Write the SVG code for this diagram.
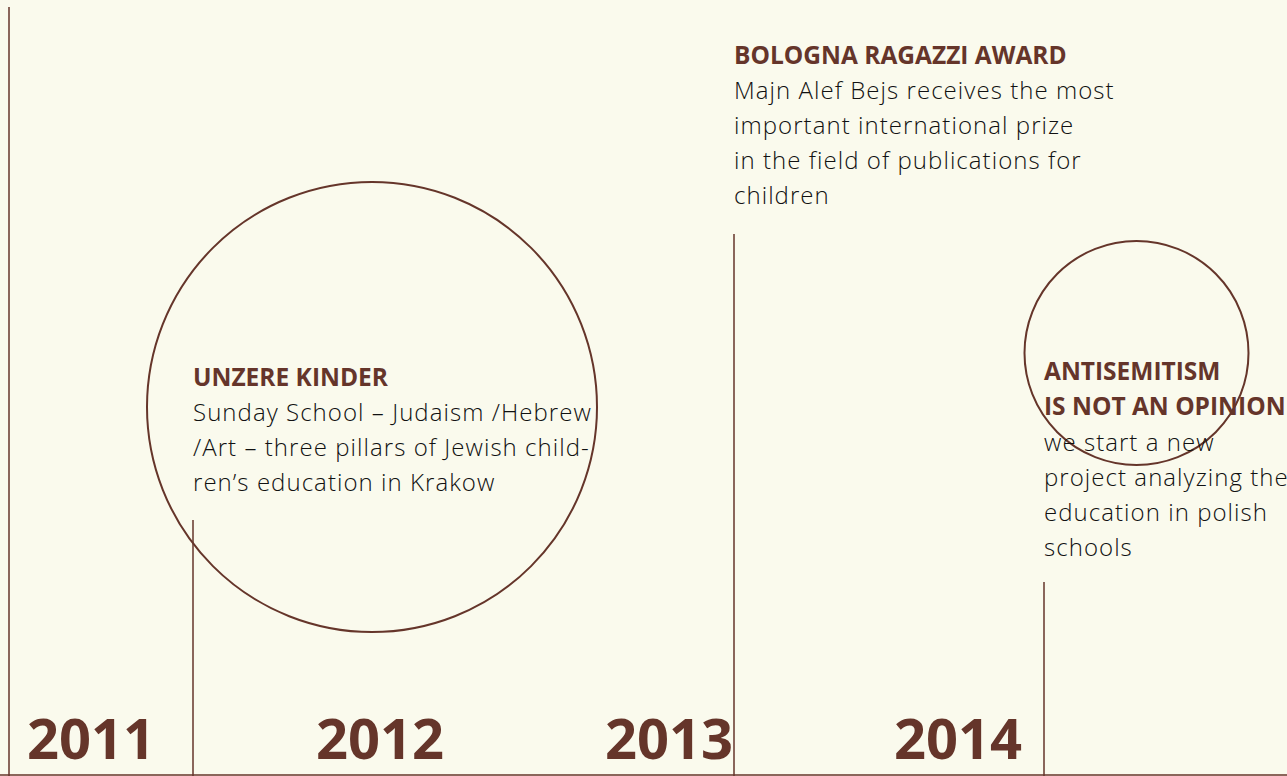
<svg xmlns="http://www.w3.org/2000/svg" width="1287" height="776" viewBox="0 0 1287 776">
<style>
.bg{fill:#FAFAED}
.ln{stroke:#65352A;stroke-width:1.5;fill:none}
.ci{stroke:#65352A;stroke-width:2;fill:none}
.yr{font-family:"Open Sans",sans-serif;font-weight:700;font-size:56px;fill:#65352A}
.hd{font-family:"Open Sans",sans-serif;font-weight:700;font-size:24.5px;fill:#65352A}
.bd{font-family:"Open Sans",sans-serif;font-weight:300;font-size:24px;letter-spacing:1.05px;fill:#111111}
</style>
<rect class="bg" x="0" y="0" width="1287" height="776"/>
<g id="connectors">
<line class="ln" x1="9" y1="7" x2="9" y2="776"/>
<line class="ln" x1="193" y1="520" x2="193" y2="776"/>
<line class="ln" x1="734" y1="234" x2="734" y2="776"/>
<line class="ln" x1="1044" y1="582" x2="1044" y2="776"/>
<line class="ln" x1="0" y1="775" x2="1287" y2="775"/>
</g>
<g id="years">
<text class="yr" x="27" y="759">2011</text>
<text class="yr" x="316" y="759">2012</text>
<text class="yr" x="605" y="759">2013</text>
<text class="yr" x="894" y="759">2014</text>
</g>
<g id="node-2012">
<circle class="ci" cx="372" cy="407" r="225"/>
<text class="hd" x="193" y="386">UNZERE KINDER</text>
<text class="bd" x="193" y="421">Sunday School – Judaism /Hebrew</text>
<text class="bd" x="193" y="456">/Art – three pillars of Jewish child-</text>
<text class="bd" x="193" y="491">ren’s education in Krakow</text>
</g>
<g id="node-2013">
<text class="hd" x="734" y="64">BOLOGNA RAGAZZI AWARD</text>
<text class="bd" x="734" y="99">Majn Alef Bejs receives the most</text>
<text class="bd" x="734" y="134">important international prize</text>
<text class="bd" x="734" y="169">in the field of publications for</text>
<text class="bd" x="734" y="204">children</text>
</g>
<g id="node-2014">
<circle class="ci" cx="1136.5" cy="353" r="112"/>
<text class="hd" x="1044" y="380">ANTISEMITISM</text>
<text class="hd" x="1044" y="415">IS NOT AN OPINION</text>
<text class="bd" x="1044" y="451">we start a new</text>
<text class="bd" x="1044" y="486">project analyzing the</text>
<text class="bd" x="1044" y="521">education in polish</text>
<text class="bd" x="1044" y="556">schools</text>
</g>
</svg>
